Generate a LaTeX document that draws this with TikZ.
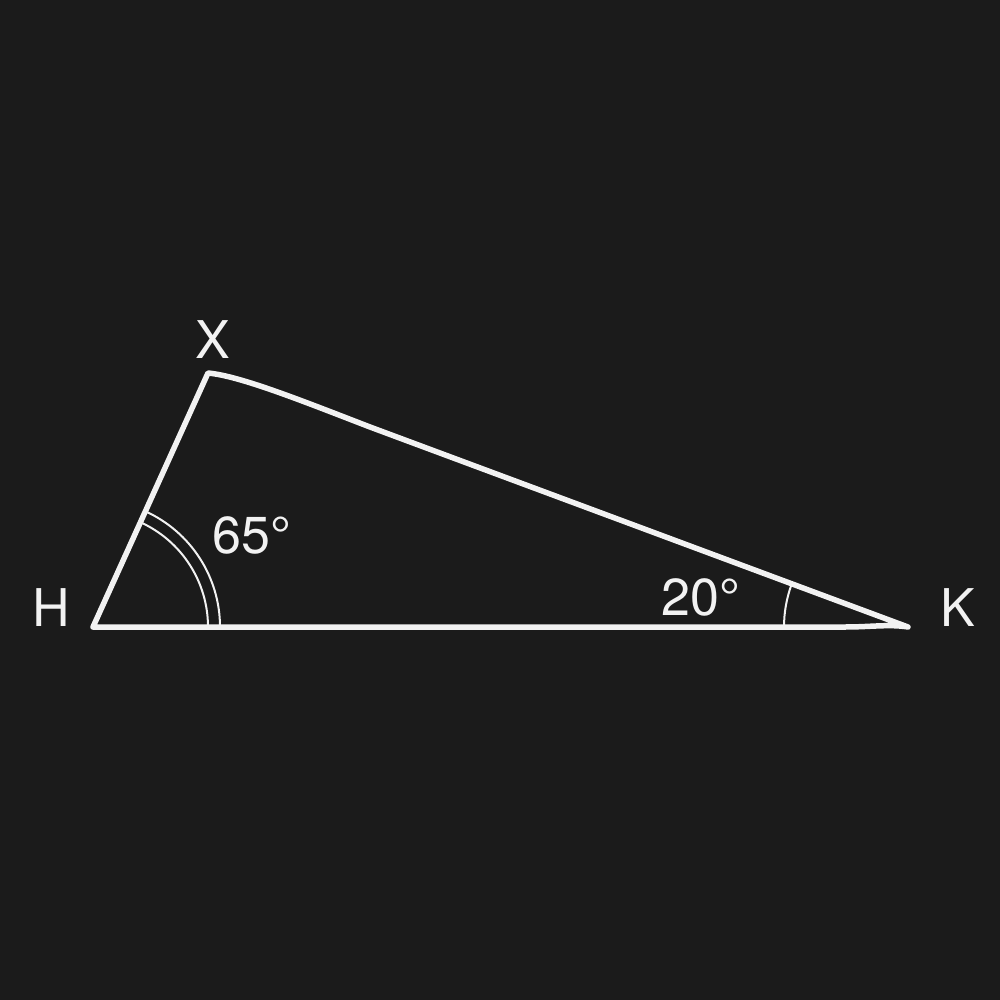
\documentclass[tikz,border=0pt]{standalone}
\usepackage{fontspec}
\setmainfont{TeX Gyre Heros}
\definecolor{bg}{HTML}{1B1B1B}
\definecolor{fg}{HTML}{F2F2F2}
\begin{document}
\begin{tikzpicture}[x=1pt,y=-1pt,
  side/.style={draw=fg,line width=5.5pt,line cap=round,line join=round},
  arcmark/.style={draw=fg,line width=2pt},
  lbl/.style={text=fg,font=\fontsize{52}{52}\selectfont,inner sep=0pt}]
\fill[bg] (0,0) rectangle (1000,1000);
\useasboundingbox (0,0) rectangle (1000,1000);
\coordinate (H) at (93,627);
\coordinate (X) at (208,373);
\coordinate (K) at (908,627);
% angle marks
\draw[arcmark] (H) ++(0:115) arc[start angle=0,end angle=-65.6,radius=115];
\draw[arcmark] (H) ++(0:127) arc[start angle=0,end angle=-65.6,radius=127];
\draw[arcmark] (K) ++(180:124) arc[start angle=180,end angle=199.9,radius=124];
% sides
\draw[side] (H) -- (X) .. controls (240,376) and (300,400) .. (370,427) -- (K) .. controls (890,624) and (870,627) .. (845,627) -- (H);
% labels
\node[lbl] (lX) at (213,340) {X};
\node[lbl] (lH) at (51,608) {H};
\node[lbl] (lK) at (958,608) {K};
\node[lbl] (a65) at (252,535) {65°};
\node[lbl] (a20) at (701,597) {20°};
\end{tikzpicture}
\end{document}
